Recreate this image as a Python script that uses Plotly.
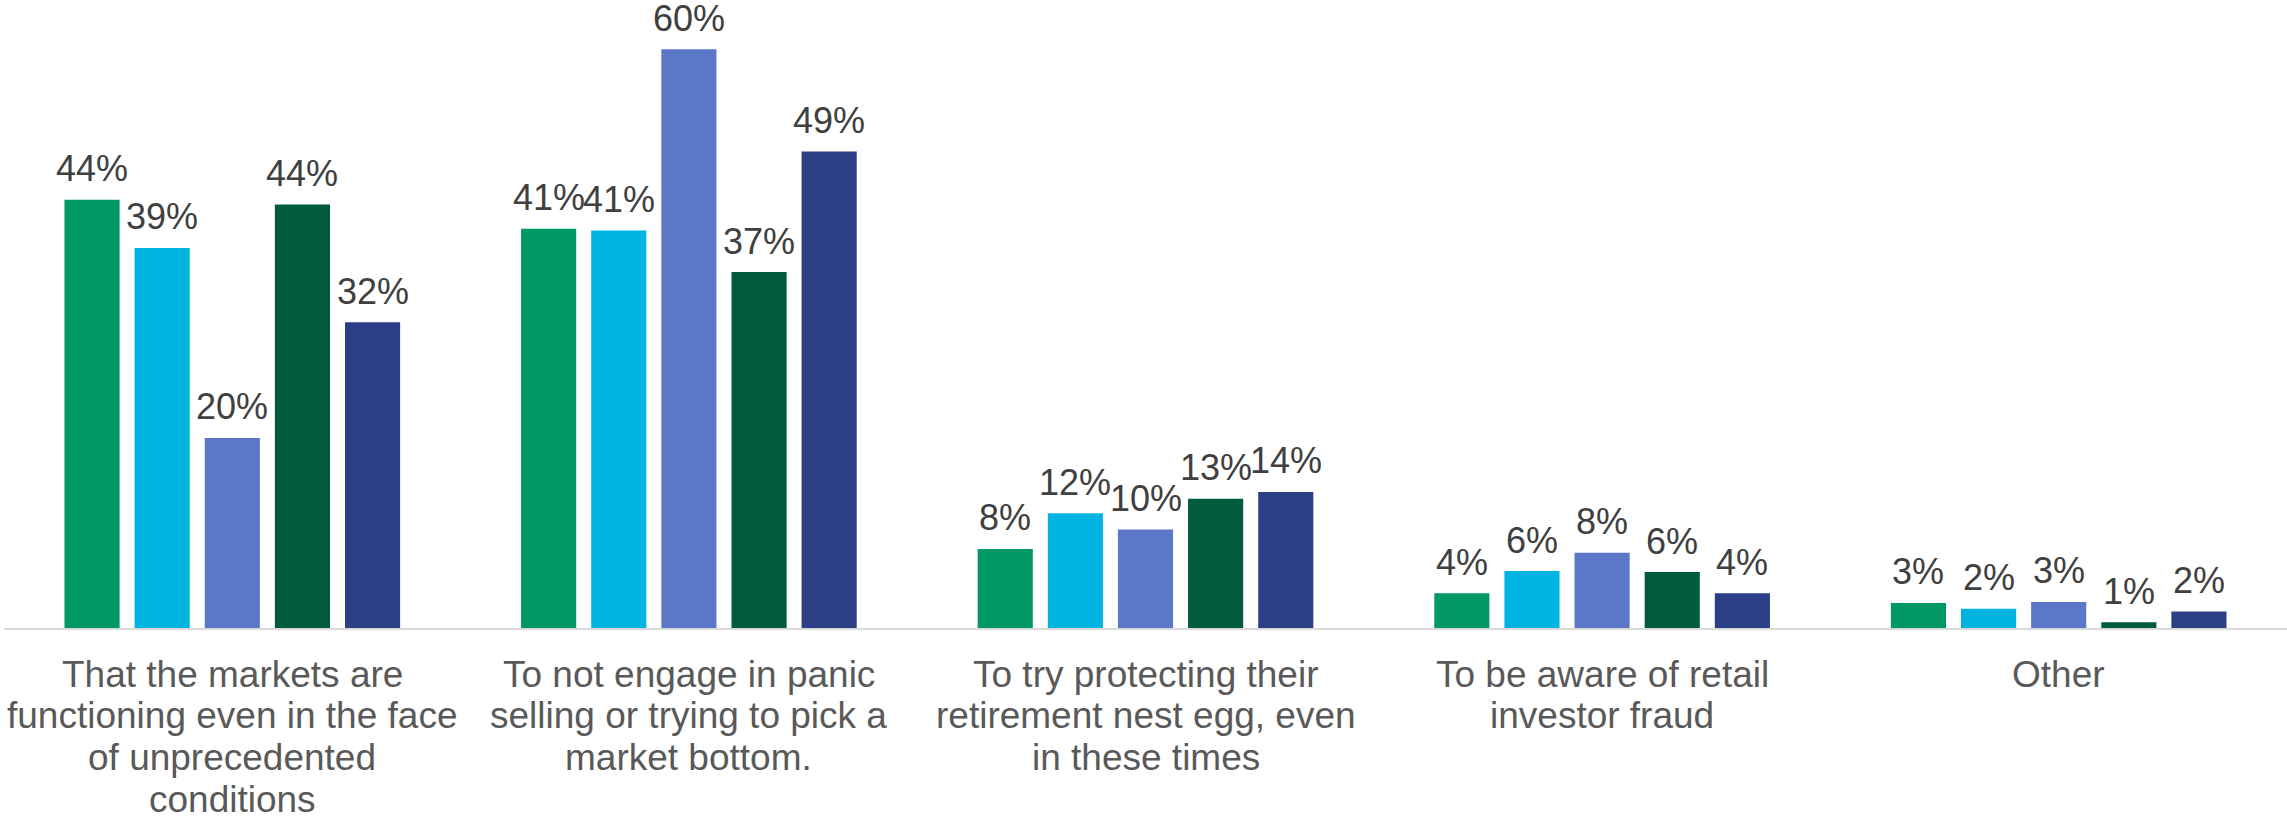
import plotly.graph_objects as go

# Survey responses (% of respondents), five respondent groups per answer
categories = [
    ["That the markets are", "functioning even in the face", "of unprecedented", "conditions"],
    ["To not engage in panic", "selling or trying to pick a", "market bottom."],
    ["To try protecting their", "retirement nest egg, even", "in these times"],
    ["To be aware of retail", "investor fraud"],
    ["Other"],
]
series_names = ["Group 1", "Group 2", "Group 3", "Group 4", "Group 5"]
group1 = [44.4, 41.4, 8.2, 3.6, 2.6]
group2 = [39.4, 41.2, 11.9, 5.9, 2.0]
group3 = [19.7, 60.0, 10.2, 7.8, 2.7]
group4 = [43.9, 36.9, 13.4, 5.8, 0.6]
group5 = [31.7, 49.4, 14.1, 3.6, 1.7]
series_values = [group1, group2, group3, group4, group5]
colors = ["#009864", "#00B4E1", "#5B77C8", "#005A3C", "#2B3F87"]

FONT = "Liberation Sans, Arial, sans-serif"
W, H = 2287, 817
M_L, M_R, M_T, M_B = 4, 0, 0, 189
PLOT_H = H - M_T - M_B
BARGAP = 0.232
BARGROUPGAP = 0.214
Y_MAX = 65.1

cat_keys = [" ".join(lines) for lines in categories]

fig = go.Figure()
for name, vals, col in zip(series_names, series_values, colors):
    fig.add_trace(go.Bar(
        name=name, x=cat_keys, y=vals,
        marker=dict(color=col, line=dict(width=0)),
        hoverinfo="y+name",
    ))

annotations = []
# value labels centred above each bar
n = len(series_values)
slot = (1 - BARGAP) / n
for j, vals in enumerate(series_values):
    off = (j - (n - 1) / 2) * slot
    for i, v in enumerate(vals):
        annotations.append(dict(
            x=i + off, y=v, xref="x", yref="y",
            text=f"{v:.0f}%", showarrow=False,
            yanchor="middle", xanchor="center", yshift=31,
            font=dict(family=FONT, size=36, color="#404040"),
        ))

# multi-line category labels under the axis
LINE_STEP = 41.7
FIRST_CENTER = 46
for i, lines in enumerate(categories):
    for k, line in enumerate(lines):
        px_below = FIRST_CENTER + k * LINE_STEP
        annotations.append(dict(
            x=i, y=-px_below / PLOT_H, xref="x", yref="paper",
            text=line, showarrow=False,
            yanchor="middle", xanchor="center",
            font=dict(family=FONT, size=37, color="#595959"),
        ))

fig.update_layout(
    width=W, height=H,
    margin=dict(l=M_L, r=M_R, t=M_T, b=M_B, pad=0),
    barmode="group", bargap=BARGAP, bargroupgap=BARGROUPGAP,
    plot_bgcolor="white", paper_bgcolor="white",
    showlegend=False,
    annotations=annotations,
    font=dict(family=FONT),
)
fig.update_xaxes(
    showticklabels=False, ticks="", showgrid=False, zeroline=False,
    showline=True, linecolor="#D9D9D9", linewidth=2,
)
fig.update_yaxes(
    range=[0, Y_MAX], visible=False, showgrid=False, zeroline=False,
)

fig.write_html("out.html")
